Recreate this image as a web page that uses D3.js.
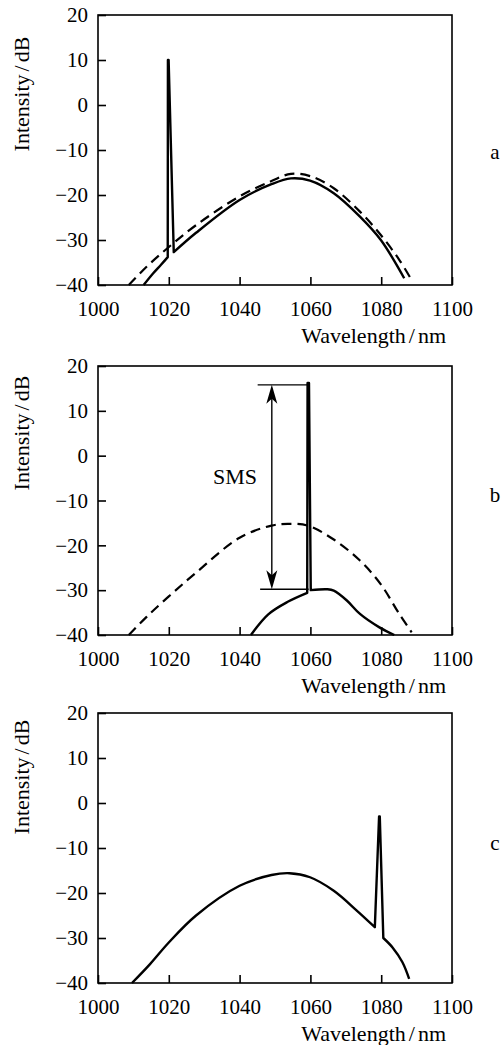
<!DOCTYPE html>
<html>
<head>
<meta charset="utf-8">
<script src="https://cdn.jsdelivr.net/npm/d3@7"></script>
<style>
  html, body { margin: 0; padding: 0; background: #fff; }
  svg text { font-family: "Liberation Serif", "Times New Roman", serif; fill: #000; }
</style>
</head>
<body>
<div id="chart"></div>
<script>
// axis ticks shared by the three panels
const X_TICKS = [1000, 1020, 1040, 1060, 1080, 1100];
const Y_TICKS = [20, 10, 0, -10, -20, -30, -40];

// panel a: [wavelength nm, intensity dB]
const aDashed = [[1008.7, -40], [1013.8, -35.9], [1020.1, -31.5], [1027.7, -26.7],
  [1040, -20.3], [1049, -16.9], [1054.5, -15.3], [1059.9, -15.8], [1066.6, -18.5], [1074, -23.7],
  [1079.9, -28.9], [1085.1, -34.4], [1088.6, -38.9]];
const aSolidLeft = [[1012.9, -40], [1015.6, -37.4], [1017.8, -35.5], [1019.7, -33.8]];
const aSpike = [[1019.7, -33.8], [1019.75, 10], [1019.95, 10], [1021.4, -32.7]];
const aSolidRight = [[1021.4, -32.7], [1027.7, -28.4], [1040, -21.1], [1049, -17.6],
  [1054.5, -16.3], [1059.9, -16.8], [1066.6, -19.6], [1074, -24.8], [1079.9, -30], [1086.5, -38.5]];

// panel b
const bDashed = [[1008.7, -40], [1013.8, -35.9], [1020, -31.4], [1027.7, -26.1],
  [1040, -18.3], [1049, -15.6], [1053.6, -15.2], [1059.2, -15.6], [1066.6, -18.7], [1074, -23.4],
  [1079.9, -28.7], [1085.1, -35.3], [1088.6, -39.4]];
const bSolidLeft = [[1043.2, -40], [1048.1, -35.4], [1053.6, -32.6], [1059.1, -30.6]];
const bSpike = [[1059.1, -30.6], [1059.2, 16.2], [1059.6, 16.2], [1060.1, -30]];
const bSolidRight = [[1060.1, -30], [1064.7, -29.8], [1066.6, -30.1], [1070.3, -32.3], [1074, -35.3],
  [1079.5, -38.3], [1083.7, -40]];
// SMS marker: arrow x, top / bottom level, extent of the guide lines
const smsArrowX = 1049.1;
const smsLevels = [15.8, -29.8];
const smsGuideFrom = [1045.1, 1045.8];
const smsGuideTo = [1059.2, 1059.5];
const smsLabel = { text: 'SMS', x: 1038.7, y: -4.6 };

// panel c
const cSolidLeft = [[1009.6, -40], [1014.7, -35.8], [1020, -31], [1027.7, -25],
  [1040, -18.4], [1049, -16], [1054.1, -15.6], [1059.9, -16.5], [1066.6, -19.5], [1073.1, -23.9],
  [1078.2, -27.6]];
const cSpike = [[1078.2, -27.6], [1079.4, -3], [1079.6, -3], [1080.6, -30]];
const cSolidRight = [[1080.6, -30], [1083.2, -32.1], [1086, -35.4], [1087.9, -39.1]];

const WIDTH = 502;
const HEIGHT = 1045;
const LEFT = 98;
const RIGHT = 452;
const FONT = 21;
const TITLE_FONT = 22;

const panels = [
  { key: 'a', top: 15, bottom: 285, yLabelMid: 94, letterY: 152, solid: [aSolidLeft, aSpike, aSolidRight], dashed: aDashed },
  { key: 'b', top: 366, bottom: 635, yLabelMid: 433, letterY: 495, solid: [bSolidLeft, bSpike, bSolidRight], dashed: bDashed, sms: true },
  { key: 'c', top: 713, bottom: 983, yLabelMid: 777, letterY: 843, solid: [cSolidLeft, cSpike, cSolidRight] }
];

const svg = d3.select('#chart')
  .append('svg')
  .attr('width', WIDTH)
  .attr('height', HEIGHT)
  .attr('viewBox', `0 0 ${WIDTH} ${HEIGHT}`);

const fmt = d => d < 0 ? '\u2212' + Math.abs(d) : String(d);

panels.forEach(p => {
  const x = d3.scaleLinear().domain([1000, 1100]).range([LEFT, RIGHT]);
  const y = d3.scaleLinear().domain([-40, 20]).range([p.bottom, p.top]);
  const g = svg.append('g').attr('class', 'panel-' + p.key);

  // axes, ticks point inwards
  const xAxis = g.append('g')
    .attr('transform', `translate(0,${p.bottom})`)
    .call(d3.axisBottom(x).tickValues(X_TICKS).tickSizeInner(-8).tickSizeOuter(0).tickPadding(16).tickFormat(fmt));
  const yAxis = g.append('g')
    .attr('transform', `translate(${LEFT},0)`)
    .call(d3.axisLeft(y).tickValues(Y_TICKS).tickSizeInner(-8).tickSizeOuter(0).tickPadding(10).tickFormat(fmt));
  [xAxis, yAxis].forEach(a => {
    a.attr('font-family', null).attr('font-size', null);
    a.select('.domain').remove();
    a.selectAll('line').attr('stroke', '#000').attr('stroke-width', 1.6);
    a.selectAll('text').attr('font-size', FONT);
  });

  // frame
  g.append('rect')
    .attr('x', LEFT).attr('y', p.top)
    .attr('width', RIGHT - LEFT).attr('height', p.bottom - p.top)
    .attr('fill', 'none').attr('stroke', '#000').attr('stroke-width', 1.6);

  const smooth = d3.line().x(d => x(d[0])).y(d => y(d[1])).curve(d3.curveCatmullRom.alpha(0.5));
  const straight = d3.line().x(d => x(d[0])).y(d => y(d[1]));

  if (p.dashed) {
    g.append('path')
      .attr('d', smooth(p.dashed))
      .attr('fill', 'none').attr('stroke', '#000').attr('stroke-width', 2.2)
      .attr('stroke-dasharray', '10,6');
  }

  // solid spectrum: smooth flanks plus a straight-edged laser line
  const pathD = smooth(p.solid[0]) + straight(p.solid[1]).replace(/^M/, 'L') + smooth(p.solid[2]).replace(/^M/, 'L');
  g.append('path')
    .attr('d', pathD)
    .attr('fill', 'none').attr('stroke', '#000').attr('stroke-width', 2.4)
    .attr('stroke-linejoin', 'round');

  if (p.sms) {
    smsLevels.forEach((lv, i) => {
      g.append('line')
        .attr('x1', x(smsGuideFrom[i])).attr('x2', x(smsGuideTo[i]))
        .attr('y1', y(lv)).attr('y2', y(lv))
        .attr('stroke', '#000').attr('stroke-width', 1.4);
    });
    const ax = x(smsArrowX);
    const yt = y(smsLevels[0]);
    const yb = y(smsLevels[1]);
    g.append('line')
      .attr('x1', ax).attr('x2', ax).attr('y1', yt + 6).attr('y2', yb - 6)
      .attr('stroke', '#000').attr('stroke-width', 1.4);
    g.append('path')
      .attr('d', `M${ax},${yt} L${ax - 5.5},${yt + 19} L${ax},${yt + 14} L${ax + 5.5},${yt + 19} Z`)
      .attr('fill', '#000');
    g.append('path')
      .attr('d', `M${ax},${yb} L${ax - 5.5},${yb - 19} L${ax},${yb - 14} L${ax + 5.5},${yb - 19} Z`)
      .attr('fill', '#000');
    g.append('text')
      .attr('x', x(smsLabel.x)).attr('y', y(smsLabel.y))
      .attr('dy', '0.35em')
      .attr('text-anchor', 'middle')
      .attr('font-size', TITLE_FONT)
      .text(smsLabel.text);
  }

  // y title
  const yt = g.append('text')
    .attr('transform', `translate(28.5,${p.yLabelMid}) rotate(-90)`)
    .attr('text-anchor', 'middle')
    .attr('font-size', TITLE_FONT);
  yt.append('tspan').text('Intensity');
  yt.append('tspan').attr('dx', 3).text('/');
  yt.append('tspan').attr('dx', 3).text('dB');

  // x title
  const xt = g.append('text')
    .attr('x', 446).attr('y', p.bottom + 58)
    .attr('text-anchor', 'end')
    .attr('font-size', TITLE_FONT);
  xt.append('tspan').text('Wavelength');
  xt.append('tspan').attr('dx', 3).text('/');
  xt.append('tspan').attr('dx', 3).text('nm');

  // panel letter
  g.append('text')
    .attr('x', 495).attr('y', p.letterY)
    .attr('dy', '0.35em')
    .attr('text-anchor', 'middle')
    .attr('font-size', FONT)
    .text(p.key);
});
</script>
</body>
</html>
